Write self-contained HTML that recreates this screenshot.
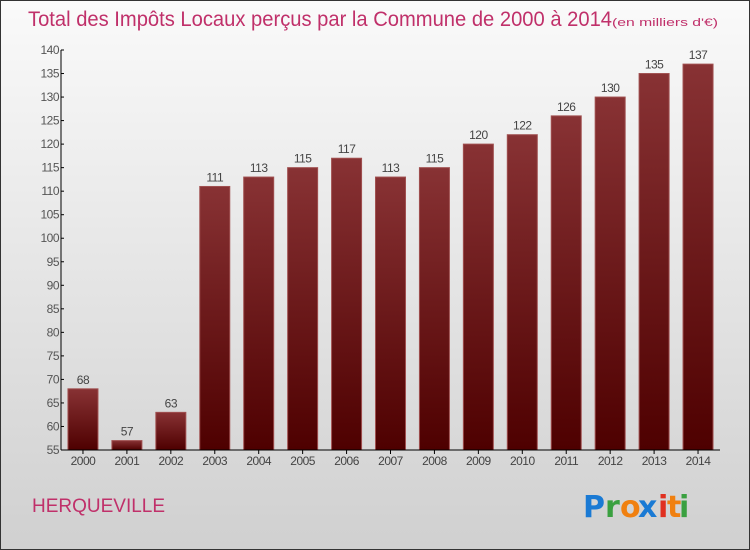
<!DOCTYPE html>
<html><head><meta charset="utf-8"><style>
body{margin:0;width:750px;height:550px;overflow:hidden}
svg{display:block;font-family:"Liberation Sans",sans-serif}
</style></head><body>
<svg width="750" height="550" viewBox="0 0 750 550">
<defs>
<linearGradient id="bg" x1="0" y1="0" x2="0" y2="1"><stop offset="0" stop-color="#fafafa"/><stop offset="1" stop-color="#d0d0d0"/></linearGradient>
<linearGradient id="bar" x1="0" y1="0" x2="0" y2="1"><stop offset="0" stop-color="#883234"/><stop offset="1" stop-color="#4e0000"/></linearGradient>
</defs>
<rect x="0.5" y="0.5" width="749" height="549" fill="url(#bg)" stroke="#333"/>
<text x="28" y="26" font-size="21" fill="#c0306a"><tspan textLength="584" lengthAdjust="spacingAndGlyphs">Total des Impôts Locaux perçus par la Commune de 2000 à 2014</tspan><tspan font-size="11" textLength="106" lengthAdjust="spacingAndGlyphs">(en milliers d'€)</tspan></text>
<g id="yaxis"></g><g id="bars"></g><g id="xaxis"></g>
<text x="32" y="512" font-size="19" fill="#c0306a">HERQUEVILLE</text>
<g font-size="30" font-weight="bold" style="font-family:'DejaVu Sans',sans-serif">
<text x="583" y="517" fill="#1a7ad4">P</text><text x="605" y="517" fill="#3aa040">r</text><text x="620" y="517" fill="#f08010">o</text><text x="638" y="517" fill="#1a7ad4">x</text><text x="658" y="517" fill="#e03020">i</text><text x="667" y="517" fill="#f08010">t</text><text x="679" y="517" fill="#3aa040">i</text>
</g>
</svg>
<script>
const years=["2000","2001","2002","2003","2004","2005","2006","2007","2008","2009","2010","2011","2012","2013","2014"];
const values=[68,57,63,111,113,115,117,113,115,120,122,126,130,135,137];
const yTicks=[55,60,65,70,75,80,85,90,95,100,105,110,115,120,125,130,135,140];
const NS="http://www.w3.org/2000/svg";
const x0=61,x1=720,yMin=55,yMax=140,yTop=50,yBot=450;
const band=(x1-x0)/years.length;
function yS(v){return yBot-(v-yMin)/(yMax-yMin)*(yBot-yTop);}
function xS(i){return x0+band*(i+0.5);}
function mk(t,a,p,txt){const e=document.createElementNS(NS,t);for(const k in a)e.setAttribute(k,a[k]);if(txt!=null)e.textContent=txt;p.appendChild(e);return e;}
const ya=document.getElementById('yaxis'),ba=document.getElementById('bars'),xa=document.getElementById('xaxis');
let l=mk('line',{x1:x0,y1:yTop,x2:x0,y2:yBot,stroke:'#000'},ya);


yTicks.forEach(v=>{const y=yS(v);
mk('line',{x1:x0,y1:y,x2:x0+3,y2:y,stroke:'#000'},ya);
const t=mk('text',{x:x0-2,y:y+4,'font-size':12,'text-anchor':'end',fill:'#555','letter-spacing':'-0.5'},ya,v);

});
values.forEach((v,i)=>{const cx=xS(i),y=yS(v);
const r=mk('rect',{x:cx-15,y:y,width:30,height:yBot-y,fill:'url(#bar)',stroke:'#a05050','stroke-width':1},ba);


const t=mk('text',{x:cx,y:y-5,'font-size':12,'text-anchor':'middle',fill:'#444','letter-spacing':'-0.5'},ba,v);


mk('line',{x1:cx,y1:yBot,x2:cx,y2:yBot+4,stroke:'#000'},xa);
const xt=mk('text',{x:cx,y:yBot+15,'font-size':12,'text-anchor':'middle',fill:'#444','letter-spacing':'-0.5'},xa,years[i]);

});
const xl=mk('line',{x1:x0,y1:yBot,x2:x1,y2:yBot,stroke:'#000'},xa);


</script>
</body></html>
